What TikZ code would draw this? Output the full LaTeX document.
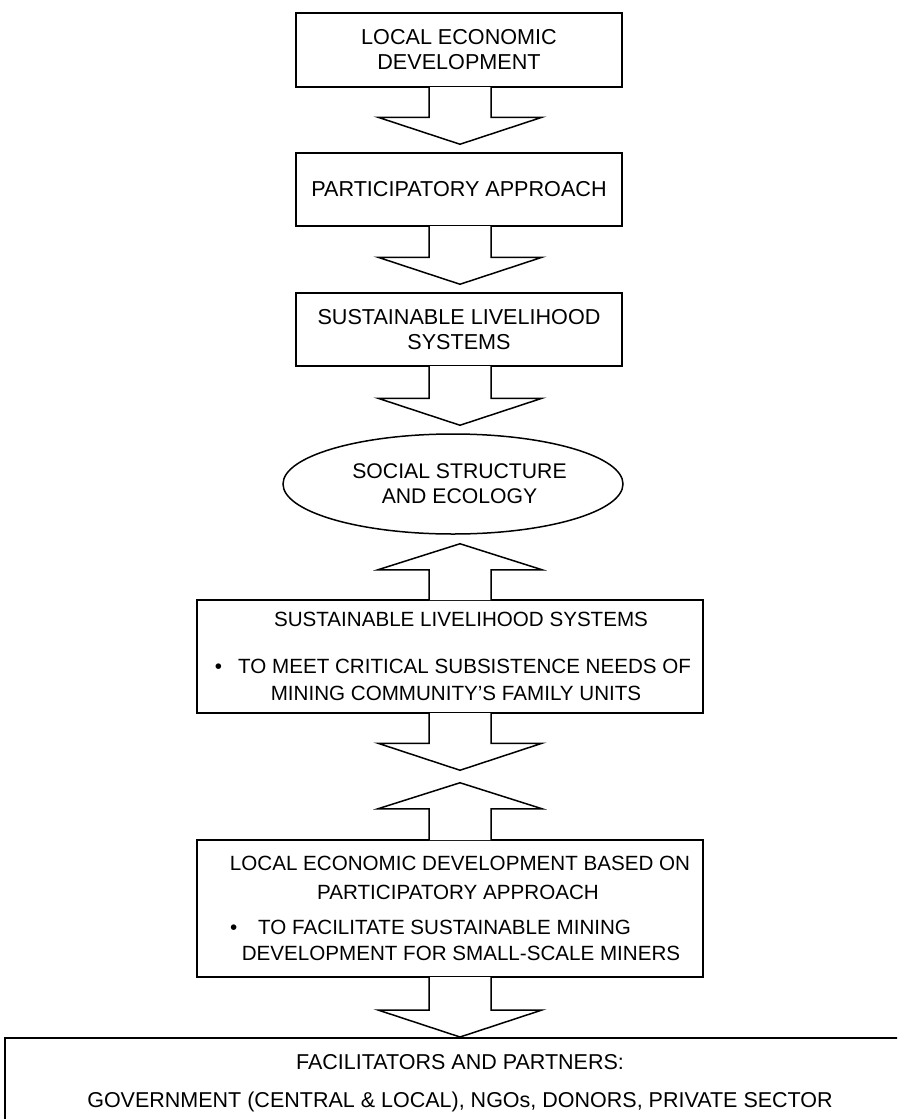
\documentclass[tikz,border=0pt]{standalone}
\usepackage{fontspec}
\setmainfont{Liberation Sans}
\usetikzlibrary{calc,shapes.geometric}
\tikzset{
  txt/.style={font=\fontsize{21.6}{25}\selectfont},
  box/.style={draw, line width=1.5pt, rectangle, align=center, inner sep=0pt, txt},
  oval/.style={draw, line width=1.5pt, ellipse, align=center, inner sep=0pt, txt},
  blk/.style={draw, line width=1.5pt, line join=miter, fill=white},
}
% down block arrow: from anchor #1 toward anchor #2, tip #3 short of #2
\newcommand{\downblk}[3]{%
  \draw[blk] let \p1=(#1), \p2=(#2) in
    (429pt,{\y1+0.75pt}) -- (429pt,{\y2+#3+27pt}) -- (378pt,{\y2+#3+27pt})
    -- (460pt,{\y2+#3}) -- (542pt,{\y2+#3+27pt}) -- (491pt,{\y2+#3+27pt})
    -- (491pt,{\y1+0.75pt});}
% up block arrow: from anchor #1 toward anchor #2, tip #3 short of #2
\newcommand{\upblk}[3]{%
  \draw[blk] let \p1=(#1), \p2=(#2) in
    (429pt,{\y1-0.75pt}) -- (429pt,{\y2-#3-26pt}) -- (378pt,{\y2-#3-26pt})
    -- (460pt,{\y2-#3}) -- (542pt,{\y2-#3-26pt}) -- (491pt,{\y2-#3-26pt})
    -- (491pt,{\y1-0.75pt});}
\begin{document}
\begin{tikzpicture}[x=1pt,y=-1pt]
\useasboundingbox (0,0) rectangle (897,1119);
\clip (0,0) rectangle (897,1119);

\node[box, minimum width=326pt, minimum height=74pt] (b1) at (459,50)
  {LOCAL ECONOMIC\\DEVELOPMENT};
\node[box, minimum width=326pt, minimum height=73pt] (b2) at (459,189.5)
  {PARTICIPATORY APPROACH};
\node[box, minimum width=326pt, minimum height=73pt] (b3) at (459,329.5)
  {SUSTAINABLE LIVELIHOOD\\SYSTEMS};
\node[oval, font=\fontsize{21.2}{25}\selectfont, minimum width=340pt, minimum height=100pt] (e1) at (453,484)
  {\hspace*{13pt}SOCIAL STRUCTURE\\\hspace*{13pt}AND ECOLOGY};
\node[box, font=\fontsize{20.6}{25}\selectfont, minimum width=506pt, minimum height=113pt] (b4) at (450,656.5)
  {\hspace*{22pt}SUSTAINABLE LIVELIHOOD SYSTEMS\\[22pt]
   \hspace*{6pt}•\hspace{16pt}TO MEET CRITICAL SUBSISTENCE NEEDS OF\\[2pt]
   \hspace*{12pt}MINING COMMUNITY’S FAMILY UNITS};
\node[box, font=\fontsize{20.6}{25}\selectfont, minimum width=506pt, minimum height=137pt] (b5) at (450,908.5)
  {\hspace*{20pt}LOCAL ECONOMIC DEVELOPMENT BASED ON\\[4pt]
   \hspace*{16pt}PARTICIPATORY APPROACH\\[10pt]
   \hspace*{-39pt}•\hspace{21pt}TO FACILITATE SUSTAINABLE MINING\\[1pt]
   \hspace*{22pt}DEVELOPMENT FOR SMALL-SCALE MINERS};
\node[box, font=\fontsize{21.5}{25}\selectfont, anchor=north, minimum width=910pt, inner ysep=17pt] (b6) at (460,1037)
  {FACILITATORS AND PARTNERS:\\[13pt]
   GOVERNMENT (CENTRAL \& LOCAL), NGOs, DONORS, PRIVATE SECTOR\\[40pt]\mbox{}};

\downblk{b1.south}{b2.north}{8pt}
\downblk{b2.south}{b3.north}{8pt}
\downblk{b3.south}{e1.north}{8pt}
\upblk{b4.north}{e1.south}{9pt}
\downblk{b4.south}{b5.north}{69pt}
\upblk{b5.north}{b4.south}{69pt}
\downblk{b5.south}{b6.north}{0pt}
\end{tikzpicture}
\end{document}
